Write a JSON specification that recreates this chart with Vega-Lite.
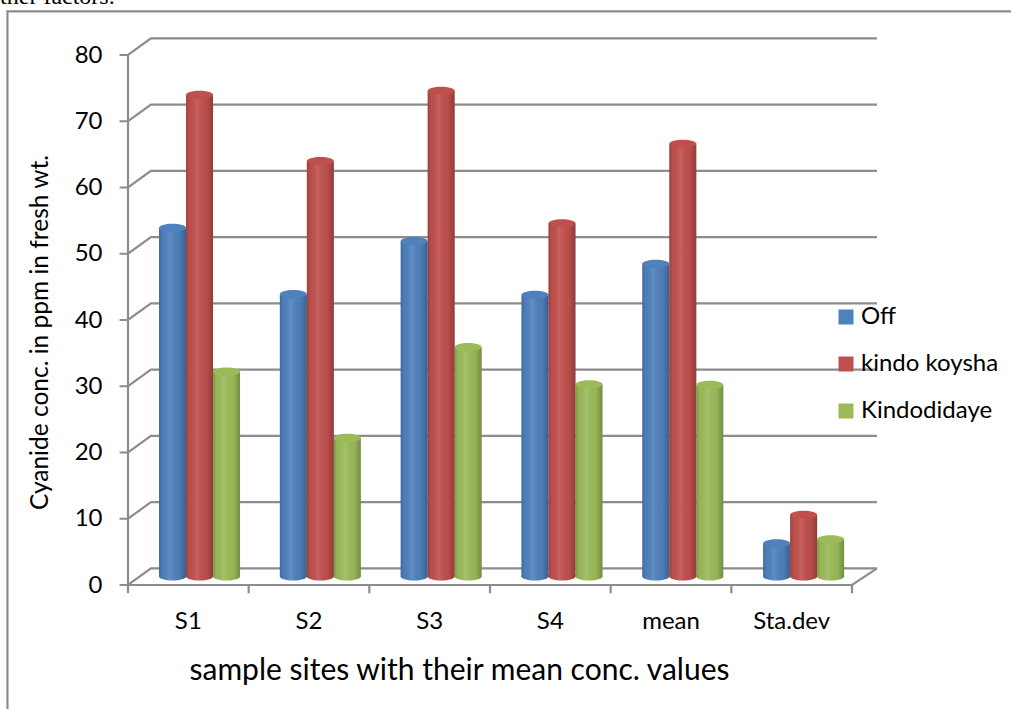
{
"$schema":"https://vega.github.io/schema/vega-lite/v6.json",
"width":724,"height":530,
"autosize":{"type":"none"},
"padding":{"left":128,"top":55,"right":159,"bottom":124},
"background":"white",
"config":{"view":{"stroke":null},"font":"Lato"},
"datasets":{
"frame":[
{"seg":"frame","n":0,"px":-0.999,"py":-18.7},{"seg":"frame","n":1,"px":-0.999,"py":86.6},{"seg":"frame","n":2,"px":7.32,"py":86.6},
{"seg":"axis","n":0,"px":0,"py":0},{"seg":"axis","n":1,"px":0,"py":80},
{"seg":"floor","n":0,"px":0,"py":0},{"seg":"floor","n":1,"px":6,"py":0},{"seg":"floor","n":2,"px":6.207,"py":2.5},
{"seg":"t0","n":0,"px":0,"py":0},{"seg":"t0","n":1,"px":0,"py":-1.25},
{"seg":"t1","n":0,"px":1,"py":0},{"seg":"t1","n":1,"px":1,"py":-1.25},
{"seg":"t2","n":0,"px":2,"py":0},{"seg":"t2","n":1,"px":2,"py":-1.25},
{"seg":"t3","n":0,"px":3,"py":0},{"seg":"t3","n":1,"px":3,"py":-1.25},
{"seg":"t4","n":0,"px":4,"py":0},{"seg":"t4","n":1,"px":4,"py":-1.25},
{"seg":"t5","n":0,"px":5,"py":0},{"seg":"t5","n":1,"px":5,"py":-1.25},
{"seg":"t6","n":0,"px":6,"py":0},{"seg":"t6","n":1,"px":6,"py":-1.25},
{"seg":"g0","n":0,"px":-0.07,"py":0},{"seg":"g0","n":1,"px":0,"py":0},{"seg":"g0","n":2,"px":0.19,"py":2.5},{"seg":"g0","n":3,"px":6.207,"py":2.5},
{"seg":"g10","n":0,"px":-0.07,"py":10},{"seg":"g10","n":1,"px":0,"py":10},{"seg":"g10","n":2,"px":0.19,"py":12.5},{"seg":"g10","n":3,"px":6.207,"py":12.5},
{"seg":"g20","n":0,"px":-0.07,"py":20},{"seg":"g20","n":1,"px":0,"py":20},{"seg":"g20","n":2,"px":0.19,"py":22.5},{"seg":"g20","n":3,"px":6.207,"py":22.5},
{"seg":"g30","n":0,"px":-0.07,"py":30},{"seg":"g30","n":1,"px":0,"py":30},{"seg":"g30","n":2,"px":0.19,"py":32.5},{"seg":"g30","n":3,"px":6.207,"py":32.5},
{"seg":"g40","n":0,"px":-0.07,"py":40},{"seg":"g40","n":1,"px":0,"py":40},{"seg":"g40","n":2,"px":0.19,"py":42.5},{"seg":"g40","n":3,"px":6.207,"py":42.5},
{"seg":"g50","n":0,"px":-0.07,"py":50},{"seg":"g50","n":1,"px":0,"py":50},{"seg":"g50","n":2,"px":0.19,"py":52.5},{"seg":"g50","n":3,"px":6.207,"py":52.5},
{"seg":"g60","n":0,"px":-0.07,"py":60},{"seg":"g60","n":1,"px":0,"py":60},{"seg":"g60","n":2,"px":0.19,"py":62.5},{"seg":"g60","n":3,"px":6.207,"py":62.5},
{"seg":"g70","n":0,"px":-0.07,"py":70},{"seg":"g70","n":1,"px":0,"py":70},{"seg":"g70","n":2,"px":0.19,"py":72.5},{"seg":"g70","n":3,"px":6.207,"py":72.5},
{"seg":"g80","n":0,"px":-0.07,"py":80},{"seg":"g80","n":1,"px":0,"py":80},{"seg":"g80","n":2,"px":0.19,"py":82.5},{"seg":"g80","n":3,"px":6.207,"py":82.5}
],
"bars":[
{"site":"S1","series":"Off","value":53.9},{"site":"S1","series":"kindo koysha","value":74.0},{"site":"S1","series":"Kindodidaye","value":32.2},
{"site":"S2","series":"Off","value":43.9},{"site":"S2","series":"kindo koysha","value":64.0},{"site":"S2","series":"Kindodidaye","value":22.2},
{"site":"S3","series":"Off","value":51.9},{"site":"S3","series":"kindo koysha","value":74.6},{"site":"S3","series":"Kindodidaye","value":35.9},
{"site":"S4","series":"Off","value":43.8},{"site":"S4","series":"kindo koysha","value":54.6},{"site":"S4","series":"Kindodidaye","value":30.3},
{"site":"mean","series":"Off","value":48.5},{"site":"mean","series":"kindo koysha","value":66.6},{"site":"mean","series":"Kindodidaye","value":30.2},
{"site":"Sta.dev","series":"Off","value":6.3},{"site":"Sta.dev","series":"kindo koysha","value":10.6},{"site":"Sta.dev","series":"Kindodidaye","value":6.9}
],
"sites":[{"site":"S1"},{"site":"S2"},{"site":"S3"},{"site":"S4"},{"site":"mean"},{"site":"Sta.dev"}],
"note":[{"label":"ther factors.","px":-1.06,"py":87.7}]
},
"resolve":{"scale":{"x":"independent","xOffset":"independent"},"axis":{"x":"independent"}},
"layer":[
{
"data":{"name":"frame"},
"mark":{"type":"line","color":"#8c8c8c","strokeWidth":2.2,"clip":false},
"encoding":{
"x":{"field":"px","type":"quantitative","scale":{"domain":[0,6],"nice":false,"zero":false},"axis":null},
"y":{"field":"py","type":"quantitative","scale":{"domain":[0,80],"nice":false},
"axis":{"values":[0,10,20,30,40,50,60,70,80],"ticks":false,"domain":false,"grid":false,"labelFontSize":24,"labelColor":"#000","labelPadding":26,
"title":"Cyanide conc. in ppm in fresh wt.","titleFontSize":24.5,"titleFontWeight":"normal","titleColor":"#000","titleX":-76,"titleY":277}},
"detail":{"field":"seg"},
"order":{"field":"n","type":"quantitative"}
}
},
{
"data":{"name":"sites"},
"mark":{"type":"tick","opacity":0},
"encoding":{
"x":{"field":"site","type":"nominal","sort":null,"scale":{"domain":["S1","S2","S3","S4","mean","Sta.dev"],"paddingInner":0,"paddingOuter":0},
"axis":{"ticks":false,"domain":false,"grid":false,"labelAngle":0,"labelFontSize":24,"labelColor":"#000","labelPadding":24,
"title":"sample sites with their mean conc. values","titleFontSize":30,"titleFontWeight":"normal","titleColor":"#000","titleX":331,"titleY":70}}
}
},
{
"data":{"name":"note"},
"mark":{"type":"text","font":"Liberation Serif","fontSize":24,"align":"left","baseline":"alphabetic","color":"#000","clip":false},
"encoding":{
"x":{"field":"px","type":"quantitative","scale":{"domain":[0,6],"nice":false,"zero":false},"axis":null},
"y":{"field":"py","type":"quantitative"},
"text":{"field":"label"}
}
},
{
"data":{"name":"bars"},
"encoding":{
"x":{"field":"site","type":"nominal","scale":{"domain":["S1","S2","S3","S4","mean","Sta.dev"],"range":[11.1,736],"paddingInner":0.33,"paddingOuter":0.165},"axis":null},
"xOffset":{"field":"series","type":"nominal","scale":{"domain":["Off","kindo koysha","Kindodidaye"],"range":[0,81],"paddingInner":0,"paddingOuter":0}}
},
"layer":[
{"mark":{"type":"point","filled":true,"opacity":1,"shape":"M-1,0A1,0.3,0,1,1,1,0A1,0.3,0,1,1,-1,0Z","size":729},
"encoding":{"y":{"datum":1.3},"color":{"field":"series","type":"nominal","scale":{"domain":["Off","kindo koysha","Kindodidaye"],"range":["#4f81bd","#c0504d","#9bbb59"]},
"legend":{"orient":"none","legendX":706,"legendY":250,"title":null,"symbolType":"square","symbolSize":225,"symbolStrokeWidth":0,"labelFontSize":24,"labelColor":"#000","labelOffset":3,"rowPadding":23,"labelLimit":300}}}},
{"mark":{"type":"point","filled":true,"opacity":1,"shape":"M-1,0A1,0.3,0,1,1,1,0A1,0.3,0,1,1,-1,0Z","size":729,"color":{"gradient":"linear","x1":0,"x2":1,"y1":0,"y2":0,"stops":[{"offset":0,"color":"rgba(0,0,0,0.2)"},{"offset":0.12,"color":"rgba(0,0,0,0.03)"},{"offset":0.4,"color":"rgba(255,255,255,0.1)"},{"offset":0.75,"color":"rgba(0,0,0,0.03)"},{"offset":1,"color":"rgba(0,0,0,0.25)"}]}},
"encoding":{"y":{"datum":1.3}}},
{"mark":{"type":"bar"},
"encoding":{"y":{"field":"value","type":"quantitative","stack":null},"y2":{"datum":1.3},"color":{"field":"series","type":"nominal","legend":null}}},
{"mark":{"type":"bar","color":{"gradient":"linear","x1":0,"x2":1,"y1":0,"y2":0,"stops":[{"offset":0,"color":"rgba(0,0,0,0.2)"},{"offset":0.12,"color":"rgba(0,0,0,0.03)"},{"offset":0.4,"color":"rgba(255,255,255,0.1)"},{"offset":0.75,"color":"rgba(0,0,0,0.03)"},{"offset":1,"color":"rgba(0,0,0,0.25)"}]}},
"encoding":{"y":{"field":"value","type":"quantitative","stack":null},"y2":{"datum":1.3}}},
{"mark":{"type":"point","filled":true,"opacity":1,"shape":"M-1,0A1,0.3,0,1,1,1,0A1,0.3,0,1,1,-1,0Z","size":729},
"encoding":{"y":{"field":"value","type":"quantitative","stack":null},"color":{"field":"series","type":"nominal","scale":{"range":["#4174ad","#a8403d","#83a047"]},"legend":null}}}
]
}
]
}
